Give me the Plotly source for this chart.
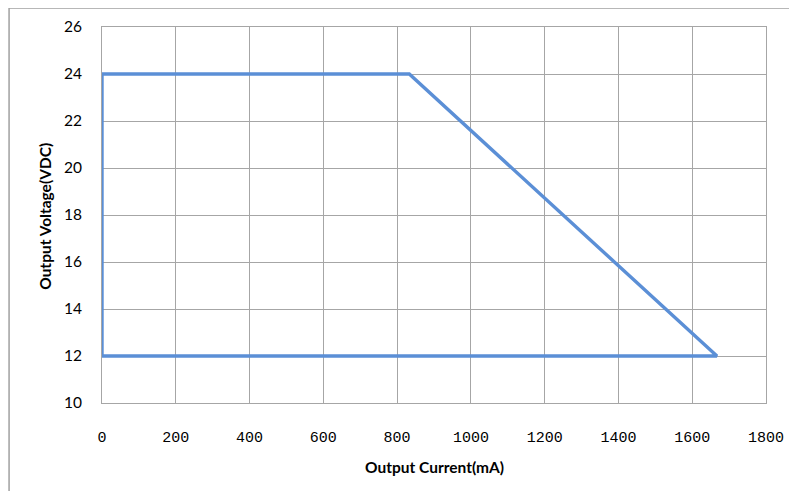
import plotly.graph_objects as go

current_ma = [0, 0, 833, 1667, 0]
voltage_vdc = [12, 24, 24, 12, 12]

x_ticks = [0, 200, 400, 600, 800, 1000, 1200, 1400, 1600, 1800]
y_ticks = [10, 12, 14, 16, 18, 20, 22, 24, 26]

OFF = 8  # page offset of the figure in the browser
W, H = 797 - 2 * OFF, 499 - 2 * OFF
L, R, T, B = 101.5 - OFF, 766 - OFF, 26.5 - OFF, 403 - OFF

fig = go.Figure()
fig.add_trace(go.Scatter(
    x=current_ma, y=voltage_vdc, mode="lines",
    line=dict(color="#5B8FD6", width=3.4),
    hoverinfo="skip", showlegend=False,
))

grid = "#A6A6A6"
fig.update_xaxes(
    range=[0, 1800], tickvals=x_ticks, showgrid=True, gridcolor=grid, gridwidth=1,
    showline=True, linecolor=grid, linewidth=1, mirror=True, zeroline=False,
    ticks="", ticklabelstandoff=20, automargin=False,
    tickfont=dict(family="Liberation Mono", size=15, color="#000000"),
)
fig.update_yaxes(
    range=[10, 26], tickvals=y_ticks, showgrid=True, gridcolor=grid, gridwidth=1,
    showline=True, linecolor=grid, linewidth=1, mirror=True, zeroline=False,
    ticks="", ticklabelstandoff=16, automargin=False,
    tickfont=dict(family="Lato", size=15.5, color="#000000"),
)

pw, ph = R - L, B - T
def px(x):
    return (x - OFF - L) / pw
def py(y):
    return (B - (y - OFF)) / ph

fig.add_annotation(text="<b>Output Current(mA)</b>", xref="paper", yref="paper",
                   x=px(434), y=py(467), showarrow=False,
                   xanchor="center", yanchor="middle",
                   font=dict(family="Lato", size=15.5, color="#000000"))
fig.add_annotation(text="<b>Output Voltage(VDC)</b>", xref="paper", yref="paper",
                   x=px(45), y=py(216), showarrow=False, textangle=-90,
                   xanchor="center", yanchor="middle",
                   font=dict(family="Lato", size=15.5, color="#000000"))

fig.add_shape(type="rect", xref="paper", yref="paper",
              x0=px(8.5), x1=px(900), y0=py(7.5), y1=py(600),
              line=dict(color="#A0A0A0", width=1.5), layer="below")

fig.update_layout(
    width=W, height=H,
    margin=dict(l=L, r=W - R, t=T, b=H - B, autoexpand=False),
    paper_bgcolor="white", plot_bgcolor="white",
)

fig.write_html("out.html")
